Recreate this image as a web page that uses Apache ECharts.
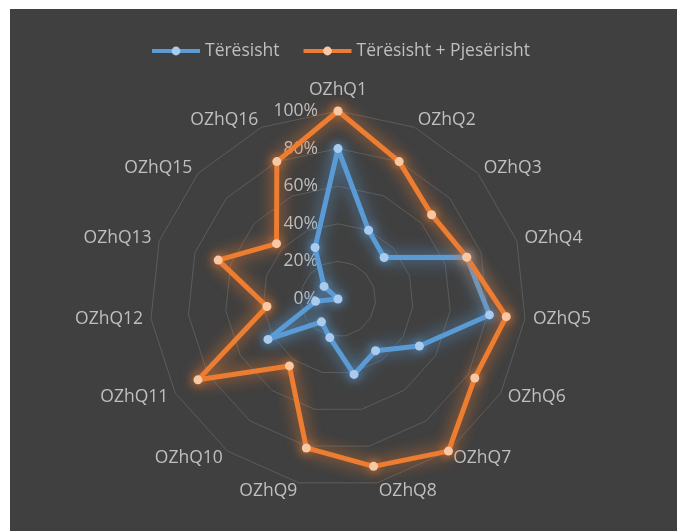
<!DOCTYPE html>
<html>
<head>
<meta charset="utf-8">
<script src="https://cdn.jsdelivr.net/npm/echarts@6/dist/echarts.min.js"></script>
<style>
  html, body { margin: 0; padding: 0; background: #ffffff; width: 677px; height: 531px; overflow: hidden; }
  #chart { position: absolute; left: 10px; top: 9px; width: 667px; height: 522px; }
</style>
</head>
<body>
<div id="chart"></div>
<script>
const categories = ['OZhQ1','OZhQ2','OZhQ3','OZhQ4','OZhQ5','OZhQ6','OZhQ7','OZhQ8','OZhQ9','OZhQ10','OZhQ11','OZhQ12','OZhQ13','OZhQ15','OZhQ16'];
const teresisht = [80, 40, 33, 72, 81, 50, 34, 41, 21, 15, 43, 12, 0, 10, 30];
const teresishtPjeserisht = [100, 80, 67, 72, 90, 84, 100, 91, 81, 44, 86, 38, 67, 44, 80];
const seriesNames = ['Tërësisht', 'Tërësisht + Pjesërisht'];
const tickMax = 100;
const tickStep = 20;

// ECharts places radar indicators counter-clockwise; reorder so they run clockwise
function clockwise(arr) { return [arr[0]].concat(arr.slice(1).reverse()); }

const FONT = 'Open Sans';
const TXT = '#bfbfbf';
const LINE_COLORS = ['#5B9BD5', '#ED7D31'];
const DOT_COLORS = ['#a9cbee', '#f8c8a4'];
const GLOW = ['rgba(91,155,213,1)', 'rgba(237,125,49,1)'];

const chart = echarts.init(document.getElementById('chart'));
chart.setOption({
  backgroundColor: '#404040',
  animation: false,
  legend: {
    data: seriesNames,
    left: 135,
    top: 28,
    itemWidth: 48,
    itemHeight: 11,
    itemGap: 22,
    lineStyle: { width: 4 },
    textStyle: { color: TXT, fontFamily: FONT, fontSize: 17.5 }
  },
  radar: {
    center: [328, 290],
    radius: 188,
    startAngle: 90,
    shape: 'polygon',
    splitNumber: 5,
    indicator: clockwise(categories).map(n => ({ name: n, min: 0, max: tickMax })),
    axisName: {
      color: TXT, fontFamily: FONT, fontSize: 17.5,
      formatter: n => n === categories[0] ? '{top|' + n + '}' : n,
      rich: { top: { color: TXT, fontFamily: FONT, fontSize: 17.5, padding: [0, 0, 4, 0] } }
    },
    nameGap: 8,
    axisLine: { show: false },
    axisTick: { show: false },
    axisLabel: { show: false },
    splitArea: { show: false },
    splitLine: { lineStyle: { color: '#5c5c5c', width: 1 } }
  },
  polar: { center: [328, 290], radius: 188 },
  angleAxis: { startAngle: 90, show: false, min: 0, max: 360 },
  radiusAxis: {
    min: 0, max: tickMax, interval: tickStep,
    axisLine: { show: false }, axisTick: { show: false }, splitLine: { show: false },
    axisLabel: { formatter: '{value}%', color: TXT, fontFamily: FONT, fontSize: 17.5, margin: 20 }
  },
  series: [
    {
      type: 'radar',
      symbol: 'circle',
      symbolSize: 9,
      data: [
        {
          name: seriesNames[0],
          value: clockwise(teresisht),
          lineStyle: { color: LINE_COLORS[0], width: 5, shadowBlur: 16, shadowColor: GLOW[0] },
          itemStyle: { color: DOT_COLORS[0], shadowBlur: 10, shadowColor: GLOW[0] }
        },
        {
          name: seriesNames[1],
          value: clockwise(teresishtPjeserisht),
          lineStyle: { color: LINE_COLORS[1], width: 5, shadowBlur: 16, shadowColor: GLOW[1] },
          itemStyle: { color: DOT_COLORS[1], shadowBlur: 10, shadowColor: GLOW[1] }
        }
      ]
    },
    // legend-only line series (no data) so the legend shows a line-with-marker key
    ...seriesNames.map((n, i) => ({
      type: 'line',
      name: n,
      coordinateSystem: 'polar',
      data: [],
      symbol: 'circle',
      symbolSize: 9,
      lineStyle: { color: LINE_COLORS[i], width: 4 },
      itemStyle: { color: DOT_COLORS[i], borderWidth: 0 }
    }))
  ]
});
</script>
</body>
</html>
